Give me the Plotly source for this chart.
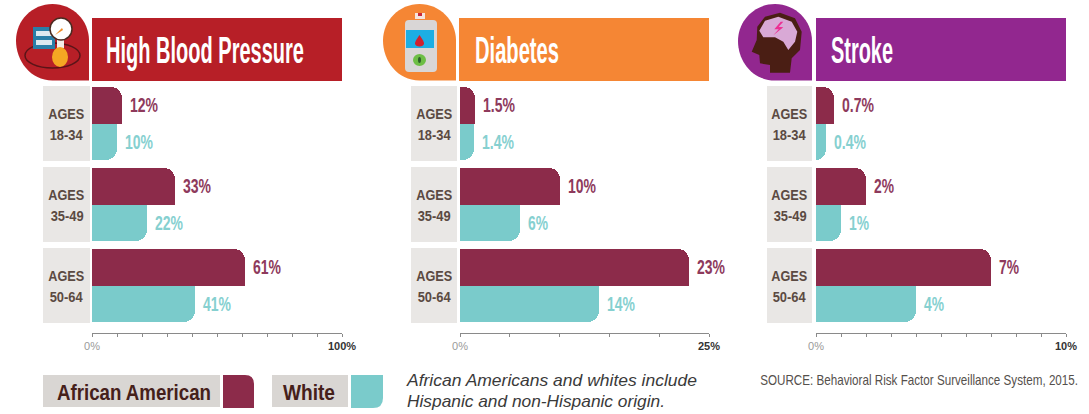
import json
import plotly.graph_objects as go

# ---------- data ----------
age_groups = ["18-34", "35-49", "50-64"]
conditions = ["High Blood Pressure", "Diabetes", "Stroke"]
african_american = [[12, 33, 61], [1.5, 10, 23], [0.7, 2, 7]]
white = [[10, 22, 41], [1.4, 6, 14], [0.4, 1, 4]]
aa_labels = [["12%", "33%", "61%"], ["1.5%", "10%", "23%"], ["0.7%", "2%", "7%"]]
wh_labels = [["10%", "22%", "41%"], ["1.4%", "6%", "14%"], ["0.4%", "1%", "4%"]]
axis_max = [100, 25, 10]
axis_step = [10, 5, 1]
axis_max_label = ["100%", "25%", "10%"]
legend_names = ["African American", "White"]
note_lines = ["African Americans and whites include", "Hispanic and non-Hispanic origin."]
source_text = "SOURCE: Behavioral Risk Factor Surveillance System, 2015."

# ---------- style / layout ----------
W, H = 1089, 414
AA, WH = "#8C2B4A", "#7ACBCB"
AA_TXT, WH_TXT = "#8E3A5C", "#86D0D0"
HEAD = ["#B71F27", "#F58634", "#92278F"]
FONT = "Liberation Sans, Arial, sans-serif"
AXIS_PX = [(92, 342), (460, 709), (816, 1066)]
BOX_PX = [(43, 90), (411, 457), (767, 812)]
ICON_PX = [(16, 89), (383, 456), (738, 812)]
HEAD_PX = [(92, 342), (459, 709), (816, 1066)]
TITLE_X = [104, 473, 829]
BAR_TOP = 86
GROUP_PX = 81
HALF = 18.5 / GROUP_PX
CENTERS = [123.5, 204.5, 285.5]
AXIS_Y = 333

# condensed text: string -> (target width px, anchor)
condensed = {
    "High Blood Pressure": (198, "l"), "Diabetes": (84, "l"), "Stroke": (62, "l"),
    "AGES": (36, "c"), "18-34": (33, "c"), "35-49": (33, "c"), "50-64": (33, "c"),
    "African American": (154, "l"), "White": (52, "l"),
    source_text: (318, "r"), note_lines[0]: (290, "l"), note_lines[1]: (258, "l"),
}
for row in aa_labels + wh_labels:
    for s in row:
        condensed[s] = (32 if "." in s else 20 if len(s) == 2 else 28, "l")

fig = go.Figure()
shapes, annos = [], []


def rect(x0, y0, x1, y1, color, **kw):
    shapes.append(dict(type="rect", xref="x4", yref="y4", x0=x0, y0=y0, x1=x1, y1=y1,
                       fillcolor=color, line=dict(width=kw.get("lw", 0), color=kw.get("lc", color)),
                       layer=kw.get("layer", "below")))


def ellipse(x0, y0, x1, y1, color, lw=0, lc=None):
    shapes.append(dict(type="circle", xref="x4", yref="y4", x0=x0, y0=y0, x1=x1, y1=y1,
                       fillcolor=color, line=dict(width=lw, color=lc or color), layer="below"))


def path(d, color, lw=0, lc=None):
    shapes.append(dict(type="path", xref="x4", yref="y4", path=d, fillcolor=color,
                       line=dict(width=lw, color=lc or color), layer="below"))


def poly(pts, color, ox=0, sc=1 / 3):
    d = "M" + " L".join(f"{ox + p[0] * sc:.1f},{p[1] * sc:.1f}" for p in pts) + " Z"
    path(d, color)


def text(x, y, s, size, color, anchor="left", **font):
    annos.append(dict(x=x, y=y, xref="x4", yref="y4", text=s, showarrow=False, xanchor=anchor,
                      yanchor="middle", font=dict(size=size, color=color, family=FONT, **font)))


def teardrop(x0, x1, y0, y1, color):
    r = (x1 - x0) / 2
    cx, cy = (x0 + x1) / 2, y0 + r
    k = 0.5523 * r
    d = (f"M{x1},{y1} L{cx},{y1} C{cx - k * 1.1},{y1} {x0},{cy + k} {x0},{cy} "
         f"C{x0},{cy - k} {cx - k},{y0} {cx},{y0} C{cx + k},{y0} {x1},{cy - k} {x1},{cy} Z")
    path(d, color)


# ---------- panels ----------
for i in range(3):
    ax = "" if i == 0 else str(i + 1)
    xname = f"x{ax}"
    x0, x1 = AXIS_PX[i]
    fig.update_layout({f"xaxis{ax}": dict(
        domain=[x0 / W, x1 / W], range=[0, axis_max[i]], anchor="free", position=1 - AXIS_Y / H,
        showgrid=False, zeroline=False, showline=True, linecolor="#8a8a8a", linewidth=1,
        ticks="outside", ticklen=3, tickcolor="#8a8a8a", tickwidth=1,
        tickmode="array",
        tickvals=[v for v in range(0, axis_max[i] + 1, axis_step[i])],
        ticktext=[("<span style='color:#9a9a9a'>0%</span>" if v == 0 else
                   (f"<b>{axis_max_label[i]}</b>" if v == axis_max[i] else ""))
                  for v in range(0, axis_max[i] + 1, axis_step[i])],
        tickfont=dict(family=FONT, size=11, color="#333333"), fixedrange=True,
    )})
    ys_aa = [g - HALF for g in range(3)]
    ys_wh = [g + HALF for g in range(3)]
    common = dict(orientation="h", xaxis=xname, yaxis="y", showlegend=False, hoverinfo="skip", cliponaxis=False)
    fig.add_trace(go.Bar(x=african_american[i], y=ys_aa, width=2 * HALF - 0.006,
                         marker=dict(color=AA, cornerradius=11, line=dict(width=0)), **common))
    fig.add_trace(go.Bar(x=african_american[i], y=[y + HALF / 2 for y in ys_aa], width=HALF,
                         marker=dict(color=AA, line=dict(width=0)), **common))
    fig.add_trace(go.Bar(x=white[i], y=ys_wh, width=2 * HALF - 0.006,
                         marker=dict(color=WH, cornerradius=11, line=dict(width=0)), **common))
    fig.add_trace(go.Bar(x=white[i], y=[y - HALF / 2 for y in ys_wh], width=HALF,
                         marker=dict(color=WH, line=dict(width=0)), **common))

    for g in range(3):
        annos.append(dict(x=african_american[i][g], y=g - HALF, xref=xname, yref="y", text=aa_labels[i][g],
                          xshift=6, showarrow=False, xanchor="left", yanchor="middle",
                          font=dict(size=20, color=AA_TXT, family=FONT, weight="bold")))
        annos.append(dict(x=white[i][g], y=g + HALF, xref=xname, yref="y", text=wh_labels[i][g],
                          xshift=6, showarrow=False, xanchor="left", yanchor="middle",
                          font=dict(size=20, color=WH_TXT, family=FONT, weight="bold")))
        bx0, bx1 = BOX_PX[i]
        cy = CENTERS[g]
        rect(bx0, cy - 37.5, bx1, cy + 37.5, "#E9E7E5")
        text((bx0 + bx1) / 2, cy - 10, "AGES", 15, "#5B4A42", anchor="center", weight="bold")
        text((bx0 + bx1) / 2, cy + 10.5, age_groups[g], 15, "#5B4A42", anchor="center", weight="bold")

    hx0, hx1 = HEAD_PX[i]
    rect(hx0, 18, hx1, 81, HEAD[i])
    ix0, ix1 = ICON_PX[i]
    teardrop(ix0, ix1, 4, 80.5, HEAD[i])
    text(TITLE_X[i], 50, conditions[i], 37, "#FFFFFF", weight="bold")

# ---------- icons ----------
ellipse(25, 43, 80, 68, "rgba(0,0,0,0)", 1.5, "#5A1418")
rect(33, 27, 55, 49, "#2A7FA8")
rect(36, 31, 52, 36, "#DCE9F0")
rect(36, 40, 52, 45, "#DCE9F0")
rect(57, 40, 64, 48, "#F3EFEA")
ellipse(52, 47, 68, 67, "#F5A623")
ellipse(50, 18, 72, 40, "#FFFFFF", 1.5, "#4A2A20")
path("M55,35 L62,28 L63,30 Z", "#F08A24")
rect(415, 13, 425, 19, "#F4E4DC")
rect(418, 13, 422, 16, "#C8283A")
path("M409,20 L433,20 Q437,20 437,24 L437,68 Q437,72 433,72 L409,72 Q405,72 405,68 L405,24 Q405,20 409,20 Z", "#D9D6D6")
rect(406, 30, 434, 48, "#1CAEE4")
path("M419.5,35 C416,40 415,42 415,43.5 C415,47.5 424,47.5 424,43.5 C424,42 423,40 419.5,35 Z", "#D0202E")
ellipse(413, 54, 426, 66, "#6DBE45")
ellipse(418, 57, 421, 63, "#2E5E2A")
HEAD_PTS = [(180, 38), (225, 55), (245, 95), (240, 150), (215, 175), (210, 218), (150, 218), (150, 195),
            (120, 190), (118, 165), (95, 155), (110, 120), (112, 80), (135, 50)]
BRAIN_PTS = [(118, 92), (135, 62), (175, 50), (215, 65), (232, 95), (225, 125), (205, 150), (190, 125),
             (165, 112), (130, 112)]
BOLT_PTS = [(182, 65), (163, 88), (176, 88), (160, 106), (190, 82), (176, 80), (190, 65)]
poly(HEAD_PTS, "#4A1E14", 720)
poly(BRAIN_PTS, "#D9A9D6", 720)
poly(BOLT_PTS, "#EC2F93", 720)

# ---------- legend, note, source ----------
rect(43, 375, 220, 407, "#D9D6D3")
path("M223,375 L245,375 Q254,375 254,384 L254,408 L223,408 Z", AA)
rect(272, 375, 348, 407, "#D9D6D3")
path("M351,375 L383,375 L383,398 Q383,408 373,408 L351,408 Z", WH)
text(55, 392, legend_names[0], 22, "#45201A", weight="bold")
text(281, 392, legend_names[1], 22, "#45201A", weight="bold")
text(405, 380, note_lines[0], 17, "#3A3A3A", style="italic")
text(405, 401, note_lines[1], 17, "#3A3A3A", style="italic")
text(1080, 380, source_text, 14, "#55504C", anchor="right")

# ---------- overlay pixel axes ----------
fig.add_trace(go.Scatter(x=[None], y=[None], xaxis="x4", yaxis="y4", showlegend=False, hoverinfo="skip"))
fig.update_layout(
    width=W, height=H, margin=dict(l=0, r=0, t=0, b=0, autoexpand=False),
    paper_bgcolor="white", plot_bgcolor="rgba(0,0,0,0)",
    barmode="overlay", bargap=0, showlegend=False,
    yaxis=dict(domain=[1 - (BAR_TOP + 237) / H, 1 - BAR_TOP / H],
               range=[2.463, -0.463], visible=False, fixedrange=True),
    xaxis4=dict(domain=[0, 1], range=[0, W], visible=False, anchor="y4", fixedrange=True),
    yaxis4=dict(domain=[0, 1], range=[H, 0], visible=False, anchor="x4", fixedrange=True),
    shapes=shapes, annotations=annos,
)

post = """
document.body.style.margin = '0';
var MAP = %s;
document.querySelectorAll('text.annotation-text').forEach(function (t) {
  var m = MAP[t.textContent];
  if (!m) return;
  var b = t.getBBox();
  if (m[1] === 'r') {
    var R = b.x + b.width, s = m[0] / b.width;
    t.setAttribute('x', R);
    t.style.textAnchor = 'end';
    t.setAttribute('text-anchor', 'end');
    t.setAttribute('transform', 'translate(' + R + ',0) scale(' + s + ',1) translate(' + (-R) + ',0)');
    return;
  }
  if (m[1] === 'l') {
    t.setAttribute('x', b.x);
    t.style.textAnchor = 'start';
    t.setAttribute('text-anchor', 'start');
  }
  t.setAttribute('textLength', m[0]);
  t.setAttribute('lengthAdjust', 'spacingAndGlyphs');
});
""" % json.dumps(condensed)
fig.write_html("out.html", config=dict(displayModeBar=False), post_script=post)
